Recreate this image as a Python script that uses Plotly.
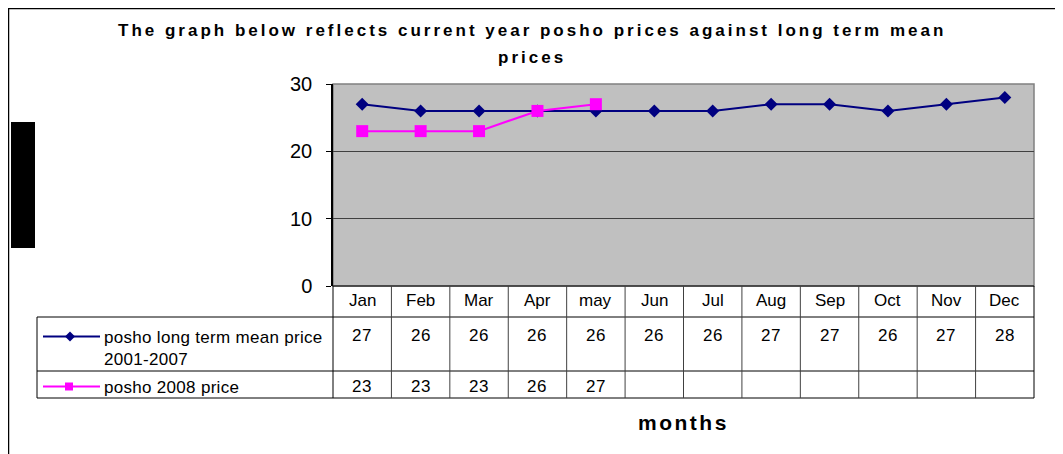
import plotly.graph_objects as go

W, H = 1063, 454

months = ["Jan", "Feb", "Mar", "Apr", "may", "Jun", "Jul", "Aug", "Sep", "Oct", "Nov", "Dec"]
long_term = [27, 26, 26, 26, 26, 26, 26, 27, 27, 26, 27, 28]
price_2008 = [23, 23, 23, 26, 27, None, None, None, None, None, None, None]
series_names = ["posho long term mean price<br>2001-2007", "posho 2008 price"]
title_lines = ["The graph below reflects current year posho prices against long term mean", "prices"]
x_title = "months"
y_ticks = [0, 10, 20, 30]

NAVY = "#000080"
MAGENTA = "#FF00FF"
FONT = "Liberation Sans"

# page offset (body margin) compensation
OFF = 8

# pixel geometry (as seen in the reference picture)
PL, PR, PT, PB = 333, 1034, 84, 286
ROW1, ROW2, TB = 317, 371, 398
LEGL = 37


def px(x):
    return (x - OFF) / W


def py(y):
    return 1 - (y - OFF) / H


def ls(text, sp):
    return f'<span style="letter-spacing:{sp}px">{text}</span>'


fig = go.Figure()
fig.add_trace(go.Scatter(x=months, y=long_term, mode="lines+markers", name=series_names[0],
                         line=dict(color=NAVY, width=2),
                         marker=dict(symbol="diamond", size=10, color=NAVY)))
fig.add_trace(go.Scatter(x=months, y=price_2008, mode="lines+markers", name=series_names[1],
                         line=dict(color=MAGENTA, width=2),
                         marker=dict(symbol="square", size=12, color=MAGENTA)))

shapes = []
ann = []

# outer border
shapes.append(dict(type="rect", xref="paper", yref="paper", x0=px(8.5), x1=px(1061), y0=py(8.5), y1=py(480),
                   line=dict(color="#000000", width=1.5), fillcolor="rgba(0,0,0,0)", layer="below"))
# redaction block on left
shapes.append(dict(type="rect", xref="paper", yref="paper", x0=px(11), x1=px(35), y0=py(122), y1=py(248),
                   line=dict(width=0), fillcolor="#000000"))
# plot area bg
shapes.append(dict(type="rect", xref="x domain", yref="y domain", x0=0, x1=1, y0=0, y1=1,
                   line=dict(color="#808080", width=1.5), fillcolor="#C0C0C0", layer="below"))

ncol = len(months)
cw = (PR - PL) / ncol
# table horizontal lines
shapes.append(dict(type="line", xref="paper", yref="paper", x0=px(PL), x1=px(PR), y0=py(PB), y1=py(PB),
                   line=dict(color="#000000", width=1)))
for yy in (ROW1, ROW2, TB):
    shapes.append(dict(type="line", xref="paper", yref="paper", x0=px(LEGL), x1=px(PR), y0=py(yy), y1=py(yy),
                       line=dict(color="#000000", width=1)))
# table vertical lines
shapes.append(dict(type="line", xref="paper", yref="paper", x0=px(LEGL), x1=px(LEGL), y0=py(ROW1), y1=py(TB),
                   line=dict(color="#000000", width=1)))
for i in range(ncol + 1):
    xx = PL + i * cw
    shapes.append(dict(type="line", xref="paper", yref="paper", x0=px(xx), x1=px(xx), y0=py(PB), y1=py(TB),
                       line=dict(color="#000000" if i in (0, ncol) else "#404040", width=1)))

# legend keys
for yk, col in ((336.5, NAVY), (386.5, MAGENTA)):
    shapes.append(dict(type="line", xref="paper", yref="paper", x0=px(43), x1=px(100), y0=py(yk), y1=py(yk),
                       line=dict(color=col, width=2)))
cx, cy, r = 70, 336.5, 5
shapes.append(dict(type="path", xref="paper", yref="paper",
                   path=f"M {px(cx-r)} {py(cy)} L {px(cx)} {py(cy-r)} L {px(cx+r)} {py(cy)} L {px(cx)} {py(cy+r)} Z",
                   line=dict(width=0), fillcolor=NAVY))
shapes.append(dict(type="rect", xref="paper", yref="paper", x0=px(65), x1=px(73), y0=py(382.5), y1=py(390.5),
                   line=dict(width=0), fillcolor=MAGENTA))

TXT = dict(family=FONT, size=17, color="#000000")
for i, m in enumerate(months):
    xc = PL + (i + 0.5) * cw
    ann.append(dict(x=px(xc), y=py(300.5), xref="paper", yref="paper", text=m, showarrow=False,
                    font=TXT, xanchor="center", yanchor="middle"))
    ann.append(dict(x=px(xc), y=py(335), xref="paper", yref="paper", text=ls(str(long_term[i]), 0.5),
                    showarrow=False, font=TXT, xanchor="center", yanchor="middle"))
    if price_2008[i] is not None:
        ann.append(dict(x=px(xc), y=py(386), xref="paper", yref="paper", text=ls(str(price_2008[i]), 0.5),
                        showarrow=False, font=TXT, xanchor="center", yanchor="middle"))

name1a, name1b = series_names[0].split("<br>")
ann.append(dict(x=px(102), y=py(337), xref="paper", yref="paper", text=ls(name1a, 0.3), showarrow=False,
                font=TXT, xanchor="left", yanchor="middle"))
ann.append(dict(x=px(102), y=py(359), xref="paper", yref="paper", text=ls(name1b, 0.3), showarrow=False,
                font=TXT, xanchor="left", yanchor="middle"))
ann.append(dict(x=px(102), y=py(387.5), xref="paper", yref="paper", text=ls(series_names[1], 0.3),
                showarrow=False, font=TXT, xanchor="left", yanchor="middle"))

TFONT = dict(family=FONT, size=17, color="#000000")
ann.append(dict(x=px(532), y=py(31), xref="paper", yref="paper", text="<b>" + ls(title_lines[0], 3.0) + "</b>",
                showarrow=False, font=TFONT, xanchor="center", yanchor="middle"))
ann.append(dict(x=px(532), y=py(57), xref="paper", yref="paper", text="<b>" + ls(title_lines[1], 3.0) + "</b>",
                showarrow=False, font=TFONT, xanchor="center", yanchor="middle"))
ann.append(dict(x=px(683), y=py(422), xref="paper", yref="paper", text="<b>" + ls(x_title, 2.5) + "</b>",
                showarrow=False, font=dict(family=FONT, size=21, color="#000000"),
                xanchor="center", yanchor="middle"))

fig.update_layout(
    width=W, height=H, margin=dict(l=0, r=0, t=0, b=0),
    paper_bgcolor="#FFFFFF", plot_bgcolor="rgba(0,0,0,0)",
    showlegend=False, shapes=shapes, annotations=ann,
    xaxis=dict(domain=[px(PL), px(PR)], type="category", range=[-0.5, ncol - 0.5], automargin=False,
               showticklabels=False, showgrid=False, zeroline=False, showline=False, ticks=""),
    yaxis=dict(domain=[py(PB), py(PT)], range=[0, 30], tickvals=y_ticks, ticks="outside", ticklen=5,
               automargin=False,
               tickcolor="#000000", showline=True, linecolor="#000000", linewidth=1.5,
               showgrid=True, gridcolor="#404040", gridwidth=1, zeroline=False,
               tickfont=dict(family=FONT, size=20, color="#000000"), ticklabelstandoff=10),
)

fig.write_html("out.html")
